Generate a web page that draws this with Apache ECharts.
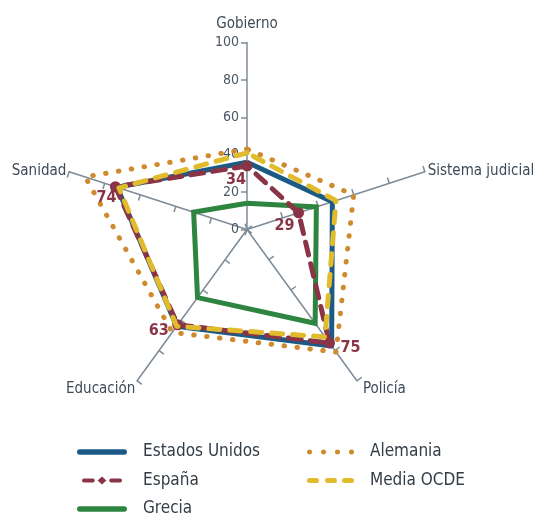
<!DOCTYPE html>
<html><head><meta charset="utf-8">
<script src="https://cdn.jsdelivr.net/npm/echarts@6/dist/echarts.min.js"></script>
<style>html,body{margin:0;padding:0;background:#fff}#c{width:533px;height:516px}</style>
</head><body><div id="c"></div>
<script>
// ECharts radar order (counter-clockwise from top)
const categories = ['Gobierno', 'Sanidad', 'Educación', 'Policía', 'Sistema judicial'];
const estadosUnidos = [36, 73, 64, 77, 48];
const espana = [34, 74, 63, 75, 29];
const grecia = [14, 30, 45, 62, 39];
const alemania = [43, 91, 68, 81, 60];
const mediaOCDE = [41, 72, 64, 71, 50];
const axisMax = 100;

const FONT = '"Liberation Sans Narrow", "DejaVu Sans Condensed", "Noto Sans", sans-serif';
const AXIS = '#7d8b99';
const NAME_C = '#3d4a57';
const C_US = '#1c5a86', C_ES = '#8a3447', C_GR = '#2e8540', C_DE = '#d08a2e', C_OC = '#e0bb2c';

const nameDecor = {
  'Gobierno': '{g|Gobierno}',
  'Policía': '\n Policía',
  'Educación': '\nEducación'
};

const chart = echarts.init(document.getElementById('c'));

const labelPos = [[-11, 14], [-9, 11], [-19, 6], [21, 5], [-14, 13]];
const labelSeries = espana.map((v, k) => ({
  type: 'radar', name: '_lab' + k, z: 10,
  data: [{ value: espana.slice() }],
  symbol: 'circle', symbolSize: 1,
  itemStyle: { color: 'transparent' },
  lineStyle: { width: 0, opacity: 0 },
  label: {
    show: true, position: 'inside', offset: labelPos[k],
    color: C_ES, fontFamily: FONT, fontSize: 16, fontWeight: 'bold',
    formatter: p => {
      if (p.dimensionIndex != null) return p.dimensionIndex === k ? String(espana[k]) : '';
      return p.value === espana[k] ? String(espana[k]) : '';
    }
  }
}));

const legendText = { color: '#333d47', fontFamily: FONT, fontSize: 17, lineHeight: 20, padding: [0, 0, 0, 11] };
const icSolid = 'path://M4,1.5L46,1.5A2.5,2.5 0 0 1 46,6.5L4,6.5A2.5,2.5 0 0 1 4,1.5Z';
const icEs = 'path://M2.5,1.5L13.5,1.5A2.5,2.5 0 0 1 13.5,6.5L2.5,6.5A2.5,2.5 0 0 1 2.5,1.5Z M36.5,1.5L47.5,1.5A2.5,2.5 0 0 1 47.5,6.5L36.5,6.5A2.5,2.5 0 0 1 36.5,1.5Z M25,-1L30.5,4L25,9L19.5,4Z';
const icDot = 'path://M0,2.5A2.5,2.5 0 1 0 5,2.5A2.5,2.5 0 1 0 0,2.5Z M14,2.5A2.5,2.5 0 1 0 19,2.5A2.5,2.5 0 1 0 14,2.5Z M28,2.5A2.5,2.5 0 1 0 33,2.5A2.5,2.5 0 1 0 28,2.5Z M42,2.5A2.5,2.5 0 1 0 47,2.5A2.5,2.5 0 1 0 42,2.5Z';
const icDash = 'path://M2.5,0L9.5,0A2.5,2.5 0 0 1 9.5,5L2.5,5A2.5,2.5 0 0 1 2.5,0Z M20.5,0L27.5,0A2.5,2.5 0 0 1 27.5,5L20.5,5A2.5,2.5 0 0 1 20.5,0Z M37.5,0L44.5,0A2.5,2.5 0 0 1 44.5,5L37.5,5A2.5,2.5 0 0 1 37.5,0Z';

chart.setOption({
  backgroundColor: '#fff',
  animation: false,
  legend: [
    {
      orient: 'vertical', left: 77, top: 442, height: 120, padding: 0,
      itemGap: 8.5, itemWidth: 50, itemHeight: 8,
      textStyle: legendText, itemStyle: { borderWidth: 0 }, selectedMode: false,
      data: [
        { name: 'Estados Unidos', icon: icSolid },
        { name: 'España', icon: icEs },
        { name: 'Grecia', icon: icSolid }
      ]
    },
    {
      orient: 'vertical', left: 307, top: 442, height: 120, padding: 0,
      itemGap: 8.5, itemWidth: 47, itemHeight: 6,
      textStyle: legendText, itemStyle: { borderWidth: 0 }, selectedMode: false,
      data: [
        { name: 'Alemania', icon: icDot },
        { name: 'Media OCDE', icon: icDash }
      ]
    }
  ],
  radar: {
    center: [247, 229.5],
    radius: 187,
    startAngle: 90,
    splitNumber: 5,
    shape: 'polygon',
    nameGap: 3,
    indicator: categories.map((n, i) => i === 0
      ? { name: n, min: 0, max: axisMax, axisLabel: { show: true } }
      : { name: n, min: 0, max: axisMax }),
    axisName: {
      color: NAME_C, fontFamily: FONT, fontSize: 15, lineHeight: 12,
      formatter: n => nameDecor[n] || n,
      rich: { g: { color: NAME_C, fontFamily: FONT, fontSize: 15, lineHeight: 22 } }
    },
    axisLine: { lineStyle: { color: AXIS, width: 1.5 } },
    axisTick: { show: true, length: 6, lineStyle: { color: AXIS, width: 1.5 } },
    axisLabel: { show: false, color: '#4a5866', fontFamily: FONT, fontSize: 14, margin: 8 },
    splitLine: { show: false },
    splitArea: { show: false }
  },
  series: [
    {
      type: 'radar', name: 'Estados Unidos', color: C_US, z: 2,
      data: [{ value: estadosUnidos }], symbol: 'none',
      lineStyle: { color: C_US, width: 5, join: 'round' }
    },
    {
      type: 'radar', name: 'España', color: C_ES, z: 3,
      data: [{ value: espana }], symbol: 'circle', symbolSize: 11,
      itemStyle: { color: C_ES },
      lineStyle: { color: C_ES, width: 5, type: [13, 9], cap: 'round', join: 'round' }
    },
    {
      type: 'radar', name: 'Grecia', color: C_GR, z: 2,
      data: [{ value: grecia }], symbol: 'none',
      lineStyle: { color: C_GR, width: 5, join: 'miter' }
    },
    {
      type: 'radar', name: 'Alemania', color: C_DE, z: 4,
      data: [{ value: alemania }], symbol: 'none',
      lineStyle: { color: C_DE, width: 5, type: [0.5, 12.5], cap: 'round' }
    },
    {
      type: 'radar', name: 'Media OCDE', color: C_OC, z: 5,
      data: [{ value: mediaOCDE }], symbol: 'none',
      lineStyle: { color: C_OC, width: 5, type: [11, 10], cap: 'round', join: 'round' }
    }
  ].concat(labelSeries)
});
</script></body></html>
